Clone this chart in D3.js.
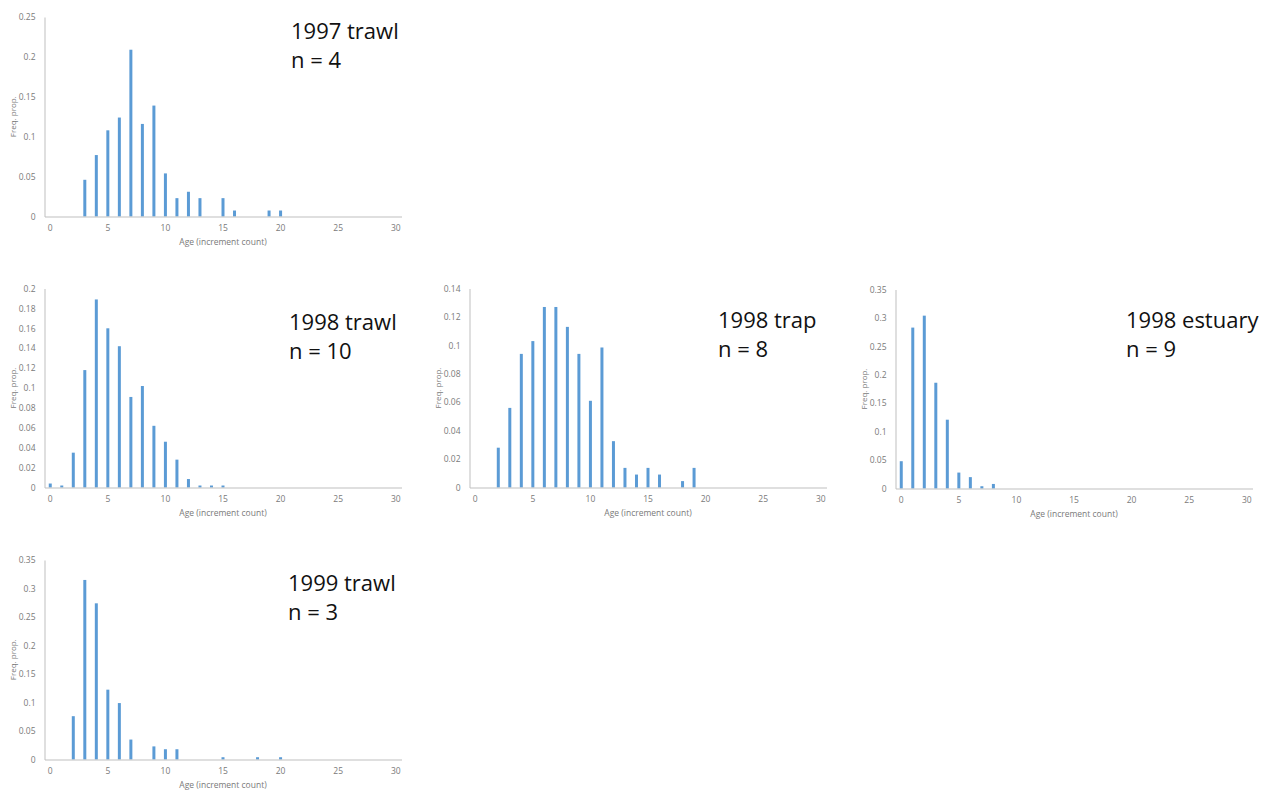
<!DOCTYPE html>
<html>
<head>
<meta charset="utf-8">
<script src="https://cdn.jsdelivr.net/npm/d3@7"></script>
<style>
  html, body { margin: 0; padding: 0; background: #ffffff; }
  svg { display: block; }
</style>
</head>
<body>
<svg id="chart" width="1270" height="790"></svg>
<script>
// ---------------- DATA ----------------
const ages = d3.range(0, 31); // 0..30 increment counts
const xTickLabels = [0, 5, 10, 15, 20, 25, 30];

const trawl1997   = [0, 0, 0, 0.046, 0.077, 0.108, 0.124, 0.209, 0.116, 0.139, 0.054, 0.023, 0.031, 0.023, 0, 0.023, 0.0075, 0, 0, 0.0075, 0.0075, 0, 0, 0, 0, 0, 0, 0, 0, 0, 0];
const trawl1998   = [0.004, 0.002, 0.035, 0.118, 0.189, 0.160, 0.142, 0.091, 0.102, 0.062, 0.046, 0.028, 0.0085, 0.002, 0.002, 0.002, 0, 0, 0, 0, 0, 0, 0, 0, 0, 0, 0, 0, 0, 0, 0];
const trap1998    = [0, 0, 0.028, 0.056, 0.094, 0.103, 0.127, 0.127, 0.113, 0.094, 0.061, 0.0985, 0.0326, 0.0138, 0.0091, 0.0138, 0.0091, 0, 0.0045, 0.0138, 0, 0, 0, 0, 0, 0, 0, 0, 0, 0, 0];
const estuary1998 = [0.048, 0.283, 0.304, 0.186, 0.121, 0.028, 0.020, 0.004, 0.008, 0, 0, 0, 0, 0, 0, 0, 0, 0, 0, 0, 0, 0, 0, 0, 0, 0, 0, 0, 0, 0, 0];
const trawl1999   = [0, 0, 0.076, 0.315, 0.274, 0.1225, 0.099, 0.035, 0, 0.023, 0.018, 0.018, 0, 0, 0, 0.004, 0, 0, 0.004, 0, 0.004, 0, 0, 0, 0, 0, 0, 0, 0, 0, 0];

const titles   = ["1997 trawl", "1998 trawl", "1998 trap", "1998 estuary", "1999 trawl"];
const nLabels  = ["n = 4", "n = 10", "n = 8", "n = 9", "n = 3"];
const yMaxes   = [0.25, 0.2, 0.14, 0.35, 0.35];
const yStepsT  = [0.05, 0.02, 0.02, 0.05, 0.05];
const seriesList = [trawl1997, trawl1998, trap1998, estuary1998, trawl1999];

const xAxisTitle = "Age (increment count)";
const yAxisTitle = "Freq. prop.";

// ---------------- LAYOUT (positions only) ----------------
const layout = [
  { left: 44.5,  right: 401.5,  top: 17,    bottom: 216.5, tx: 291,  ty: 39  },
  { left: 44.5,  right: 401.5,  top: 288.5, bottom: 487.5, tx: 289,  ty: 330 },
  { left: 469.5, right: 826.5,  top: 288.5, bottom: 487.5, tx: 718,  ty: 328 },
  { left: 895.5, right: 1252.5, top: 289.5, bottom: 488.5, tx: 1126, ty: 328 },
  { left: 44.5,  right: 401.5,  top: 560,   bottom: 759.5, tx: 288,  ty: 591 }
];

const barColor = "#5B9BD5";
const axisColor = "#bfbfbf";
const tickColor = "#7a7a7a";
const font = "'Open Sans', 'Noto Sans', sans-serif";

const svg = d3.select("#chart");

seriesList.forEach((vals, i) => {
  const L = layout[i];
  const g = svg.append("g");

  const x = d3.scaleBand()
    .domain(ages)
    .range([L.left, L.right])
    .paddingInner(0.74)
    .paddingOuter(0.37);

  const y = d3.scaleLinear()
    .domain([0, yMaxes[i]])
    .range([L.bottom, L.top]);

  const yTicks = d3.range(0, yMaxes[i] + 1e-9, yStepsT[i]).map(v => +v.toFixed(4));

  // bars
  g.selectAll("rect.bar")
    .data(ages.filter(a => vals[a] > 0))
    .join("rect")
    .attr("class", "bar")
    .attr("x", a => x(a))
    .attr("width", x.bandwidth())
    .attr("y", a => y(vals[a]))
    .attr("height", a => y(0) - y(vals[a]))
    .attr("fill", barColor);

  // y axis
  const yAxis = d3.axisLeft(y)
    .tickValues(yTicks)
    .tickSize(0)
    .tickPadding(9)
    .tickFormat(d => String(+d.toFixed(2)));
  const ya = g.append("g")
    .attr("transform", `translate(${L.left},0)`)
    .call(yAxis);
  ya.select(".domain").attr("stroke", axisColor).attr("stroke-width", 1);
  ya.selectAll("text")
    .attr("fill", tickColor)
    .style("font-family", font)
    .style("font-size", "8.5px");

  // x axis
  const xAxis = d3.axisBottom(x)
    .tickValues(xTickLabels)
    .tickSize(0)
    .tickPadding(8);
  const xa = g.append("g")
    .attr("transform", `translate(0,${L.bottom})`)
    .call(xAxis);
  xa.select(".domain").attr("stroke", axisColor).attr("stroke-width", 1);
  xa.selectAll("text")
    .attr("fill", tickColor)
    .style("font-family", font)
    .style("font-size", "8.5px");

  // axis titles
  g.append("text")
    .attr("x", (L.left + L.right) / 2)
    .attr("y", L.bottom + 26)
    .attr("text-anchor", "middle")
    .attr("dominant-baseline", "middle")
    .attr("fill", tickColor)
    .style("font-family", font)
    .style("font-size", "8.5px")
    .text(xAxisTitle);

  g.append("text")
    .attr("transform", `translate(${L.left - 31},${(L.top + L.bottom) / 2}) rotate(-90)`)
    .attr("text-anchor", "middle")
    .attr("dominant-baseline", "middle")
    .attr("fill", tickColor)
    .style("font-family", font)
    .style("font-size", "8px")
    .text(yAxisTitle);

  // panel title
  g.append("text")
    .attr("x", L.tx)
    .attr("y", L.ty)
    .attr("fill", "#111")
    .style("font-family", font)
    .style("font-size", "22px")
    .text(titles[i]);
  g.append("text")
    .attr("x", L.tx)
    .attr("y", L.ty + 29)
    .attr("fill", "#111")
    .style("font-family", font)
    .style("font-size", "22px")
    .text(nLabels[i]);
});
</script>
</body>
</html>
